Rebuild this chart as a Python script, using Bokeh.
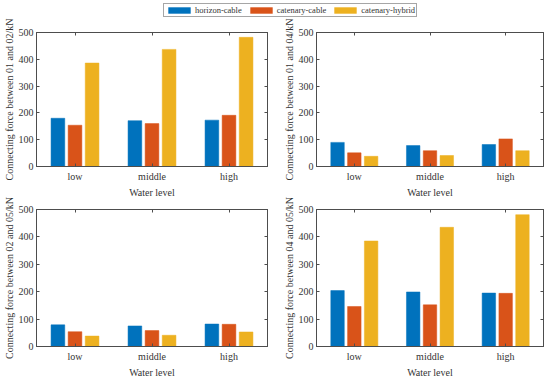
import numpy as np
from bokeh.plotting import figure
from bokeh.layouts import column, row
from bokeh.models import (ColumnDataSource, FixedTicker, LinearAxis, Legend,
                          LegendItem)
from bokeh.embed import file_html
from bokeh.resources import INLINE

# ---------------- data ----------------
levels = ["low", "middle", "high"]
series_names = ["horizon-cable", "catenary-cable", "catenary-hybrid"]

f_01_02_horizon = [180, 171, 173]
f_01_02_catcable = [154, 160, 191]
f_01_02_hybrid = [386, 437, 482]

f_01_04_horizon = [90, 78, 82]
f_01_04_catcable = [51, 59, 103]
f_01_04_hybrid = [38, 41, 59]

f_02_05_horizon = [79, 75, 82]
f_02_05_catcable = [54, 58, 81]
f_02_05_hybrid = [38, 41, 53]

f_04_05_horizon = [204, 199, 195]
f_04_05_catcable = [146, 152, 194]
f_04_05_hybrid = [385, 435, 481]

y_ticks = [0, 100, 200, 300, 400, 500]

ylabels = ["Connecting force between 01 and 02/kN",
           "Connecting force between 01 and 04/kN",
           "Connecting force between 02 and 05/kN",
           "Connecting force between 04 and 05/kN"]
xlabel = "Water level"

# ---------------- style ----------------
COLORS = ["#0072BD", "#D95319", "#EDB120"]
AX = "#4d4d4d"
TXT = "#333333"
FONT = "Liberation Serif"
OFFSETS = [-0.222, 0.0, 0.222]
BAR_W = 0.178

group_x = np.arange(1, len(levels) + 1)


def style_axis(ax, labels_visible=True, standoff=3, label_standoff=1):
    ax.axis_line_color = AX
    ax.major_tick_line_color = AX
    ax.minor_tick_line_color = None
    ax.major_tick_in = 3
    ax.major_tick_out = 0
    ax.major_label_text_font = FONT
    if labels_visible:
        ax.major_label_text_color = TXT
        ax.major_label_text_font_size = "10px"
        ax.major_label_standoff = standoff
    else:
        ax.major_label_text_color = None
        ax.major_label_text_font_size = "1px"
        ax.major_label_standoff = 0
    ax.axis_label_text_font = FONT
    ax.axis_label_text_font_size = "10px"
    ax.axis_label_text_font_style = "normal"
    ax.axis_label_text_color = TXT
    ax.axis_label_standoff = label_standoff


def make_panel(series, ylabel, width, height, bl, br, bt, bb):
    p = figure(width=width, height=height, x_range=(0.5, 3.5), y_range=(0, 500),
               output_backend="svg", toolbar_location=None, tools="",
               min_border_left=bl, min_border_right=br,
               min_border_top=bt, min_border_bottom=bb,
               x_axis_label=xlabel, y_axis_label=ylabel)
    for vals, off, col in zip(series, OFFSETS, COLORS):
        src = ColumnDataSource(dict(x=group_x + off, top=vals))
        p.vbar(x="x", top="top", width=BAR_W, source=src,
               fill_color=col, line_color=col, line_width=0.5)
    p.grid.visible = False
    p.outline_line_color = AX
    p.xaxis.ticker = FixedTicker(ticks=list(group_x))
    p.xaxis.major_label_overrides = {int(i): lv for i, lv in zip(group_x, levels)}
    p.yaxis.ticker = FixedTicker(ticks=y_ticks)
    style_axis(p.xaxis[0], standoff=4, label_standoff=2)
    style_axis(p.yaxis[0], standoff=3, label_standoff=1)
    top_ax = LinearAxis(ticker=FixedTicker(ticks=list(group_x)))
    style_axis(top_ax, labels_visible=False)
    top_ax.major_label_overrides = {int(i): "" for i in group_x}
    p.add_layout(top_ax, "above")
    right_ax = LinearAxis(ticker=FixedTicker(ticks=y_ticks))
    style_axis(right_ax, labels_visible=False)
    right_ax.major_label_overrides = {t: "" for t in y_ticks}
    p.add_layout(right_ax, "right")
    p.background_fill_color = "white"
    p.border_fill_color = "white"
    p.border_fill_alpha = 0
    return p


# top row figures reach up to the page top (legend strip lies beneath them)
tl = make_panel([f_01_02_horizon, f_01_02_catcable, f_01_02_hybrid], ylabels[0],
                280, 200, 35, 13, 32, 27)
tr = make_panel([f_01_04_horizon, f_01_04_catcable, f_01_04_hybrid], ylabels[1],
                270, 200, 33, 7, 32, 27)
# bottom row figures overlap the top row slightly so their long y labels fit
bl = make_panel([f_02_05_horizon, f_02_05_catcable, f_02_05_hybrid], ylabels[2],
                280, 192, 35, 13, 21, 29)
br = make_panel([f_04_05_horizon, f_04_05_catcable, f_04_05_hybrid], ylabels[3],
                270, 192, 33, 7, 21, 29)

# ---------------- legend strip ----------------
lf = figure(width=550, height=28, x_range=(0, 1), y_range=(0, 1),
            output_backend="svg", toolbar_location=None, tools="",
            min_border=0, x_axis_location=None, y_axis_location=None)
lf.grid.visible = False
lf.outline_line_color = None
items = []
for name, col in zip(series_names, COLORS):
    # placeholder renderer (zero-height, invisible) that only feeds the legend swatch
    src = ColumnDataSource(dict(x=[0.0], top=[0.0], bottom=[0.0]))
    r = lf.vbar(x="x", top="top", bottom="bottom", width=0.0001, source=src,
                fill_color=col, line_color=None)
    items.append(LegendItem(label=name, renderers=[r]))
legend = Legend(items=items, orientation="horizontal", location=(163, 11),
                glyph_width=28, glyph_height=8, label_height=8,
                label_text_font=FONT, label_text_font_size="8.5px",
                label_text_color=TXT, padding=1, spacing=5, label_standoff=2,
                margin=0, border_line_color=AX, border_line_width=1,
                background_fill_color="white", background_fill_alpha=1)
lf.add_layout(legend)
lf.margin = (0, 0, -28, 0)

top_row = row(tl, tr, spacing=0, margin=(0, 0, -12, 0))
bottom_row = row(bl, br, spacing=0)
layout = column(lf, top_row, bottom_row, spacing=0)

open("out.html", "w").write(file_html(layout, INLINE))
